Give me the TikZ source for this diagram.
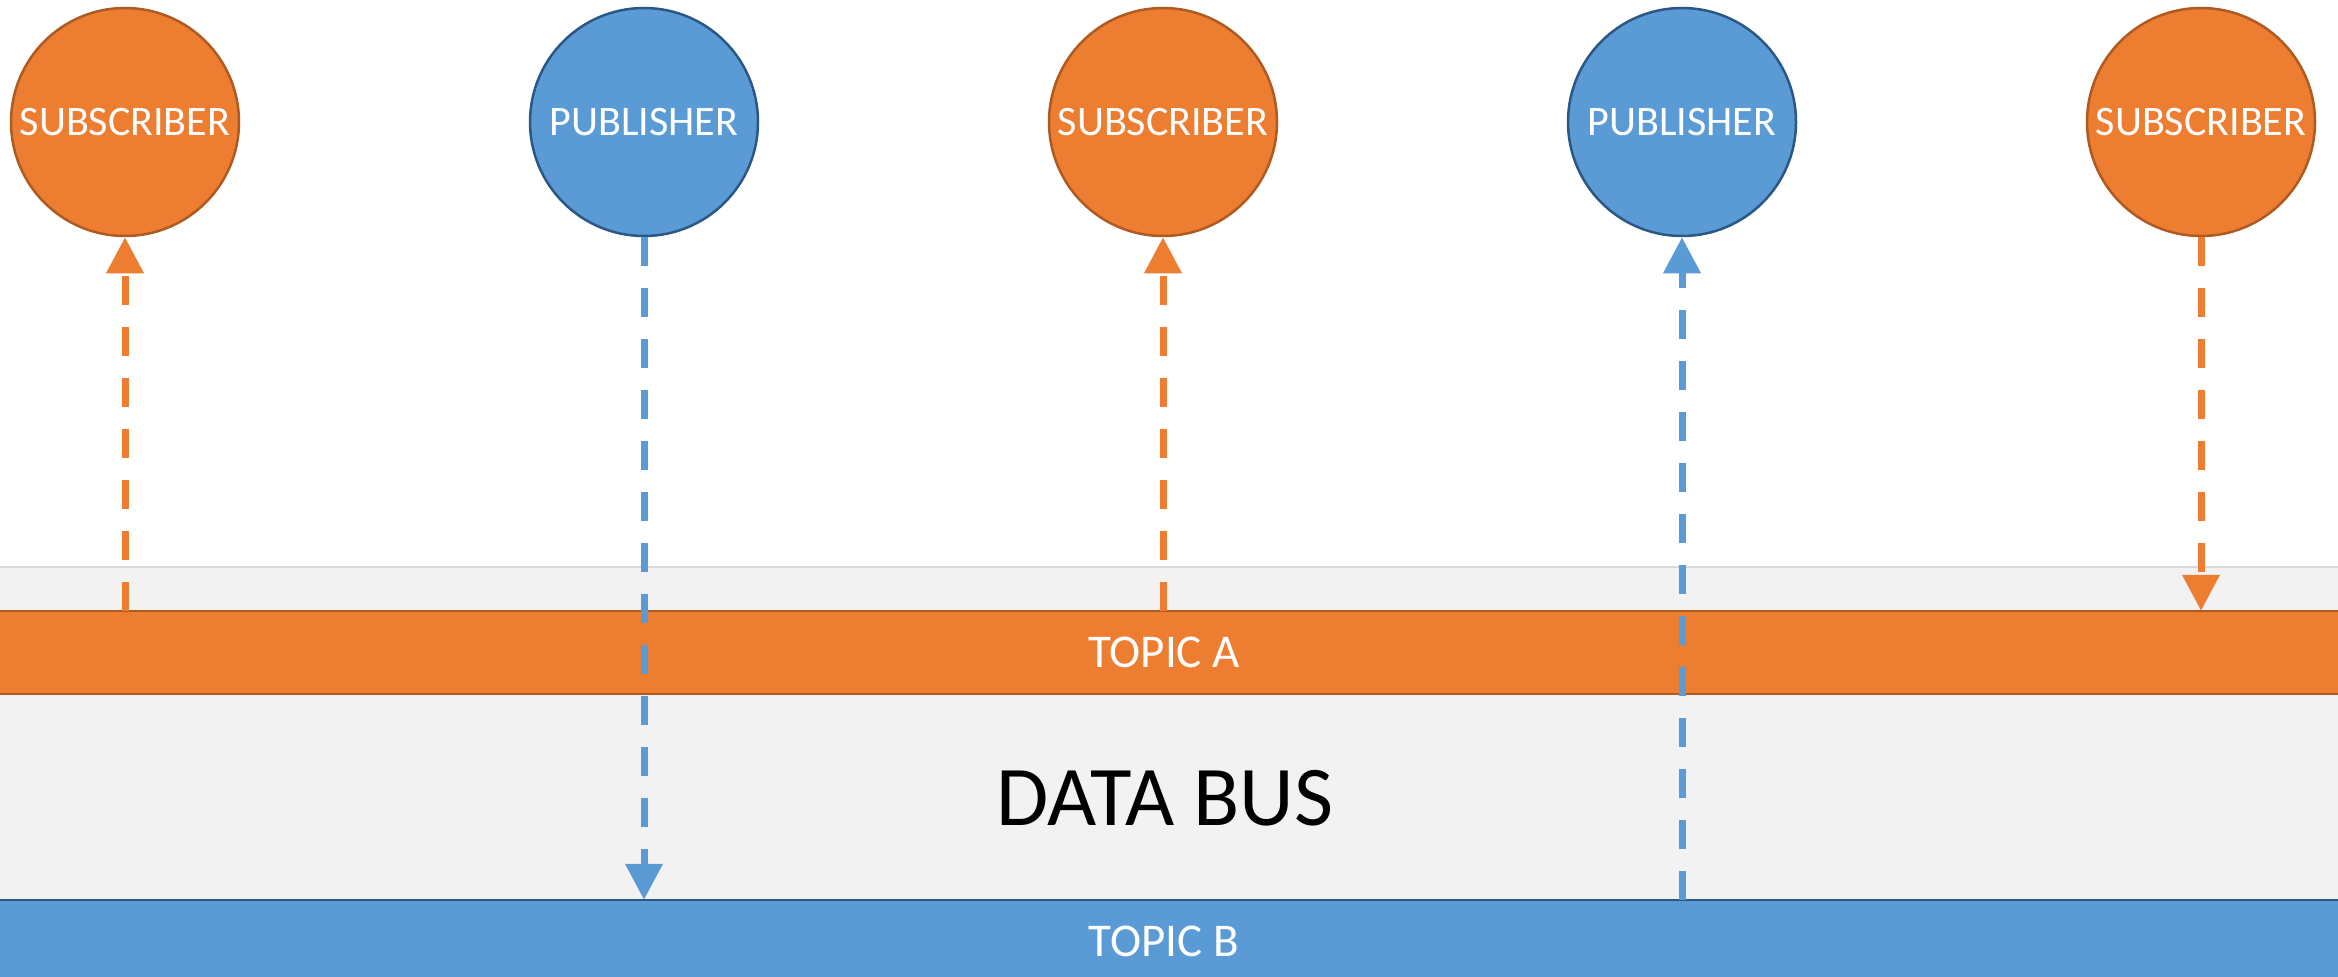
\documentclass[tikz,border=0pt]{standalone}
\usepackage{fontspec}
\setmainfont{Carlito}
\usetikzlibrary{arrows.meta}
\definecolor{accOrange}{HTML}{ED7D31}
\definecolor{accOrangeDark}{HTML}{AE5A21}
\definecolor{accBlue}{HTML}{5B9BD5}
\definecolor{accBlueDark}{HTML}{2A5784}
\definecolor{busGray}{HTML}{F2F2F2}
\definecolor{busLine}{HTML}{D9D9D9}
\tikzset{
  roleball/.style={circle, minimum size=228pt, inner sep=0pt, line width=2.5pt,
    text=white, font=\fontsize{42}{50}\selectfont},
  subball/.style={roleball, fill=accOrange, draw=accOrangeDark},
  pubball/.style={roleball, fill=accBlue, draw=accBlueDark},
  topicbar/.style={rectangle, minimum width=2420pt, minimum height=83pt, inner sep=0pt,
    text=white, font=\fontsize{47}{55}\selectfont},
  flow/.style={line width=7pt, dash pattern=on 29pt off 22pt,
    -{Triangle[width=36pt,length=36pt]}},
  oflow/.style={flow, draw=accOrange},
  bflow/.style={flow, draw=accBlue},
}
\begin{document}
\begin{tikzpicture}[x=1pt, y=-1pt]
\useasboundingbox (0,0) rectangle (2338,977);
% data bus background
\fill[busGray] (-10,567) rectangle (2348,990);
\draw[busLine, line width=2pt] (-10,567) -- (2348,567);
\node[font=\fontsize{85}{98}\selectfont] (bus) at (1165,798) {DATA BUS};
% topic bars
\node[topicbar, fill=accOrange] (topicA) at (1164,652.5) {\raisebox{-4pt}{TOPIC A}};
\draw[accOrangeDark, line width=2.5pt] (topicA.north west) -- (topicA.north east)
  (topicA.south west) -- (topicA.south east);
\node[topicbar, fill=accBlue] (topicB) at (1164,941.5) {\raisebox{-1pt}{TOPIC B}};
\draw[accBlueDark, line width=2.5pt] (topicB.north west) -- (topicB.north east);
% participants
\node[subball] (s1) at (125,122) {\raisebox{-3pt}{SUBSCRIBER}};
\node[pubball] (p1) at (644,122) {\raisebox{-3pt}{PUBLISHER}};
\node[subball] (s2) at (1163,122) {\raisebox{-3pt}{SUBSCRIBER}};
\node[pubball] (p2) at (1682,122) {\raisebox{-3pt}{PUBLISHER}};
\node[subball] (s3) at (2201,122) {\raisebox{-3pt}{SUBSCRIBER}};
% message flows
\draw[oflow] (s1 |- topicA.north) -- (s1.south);
\draw[bflow] (p1.south) -- (p1 |- topicB.north);
\draw[oflow] (s2 |- topicA.north) -- (s2.south);
\draw[bflow] (p2 |- topicB.north) -- (p2.south);
\draw[oflow] (s3.south) -- (s3 |- topicA.north);
\end{tikzpicture}
\end{document}
